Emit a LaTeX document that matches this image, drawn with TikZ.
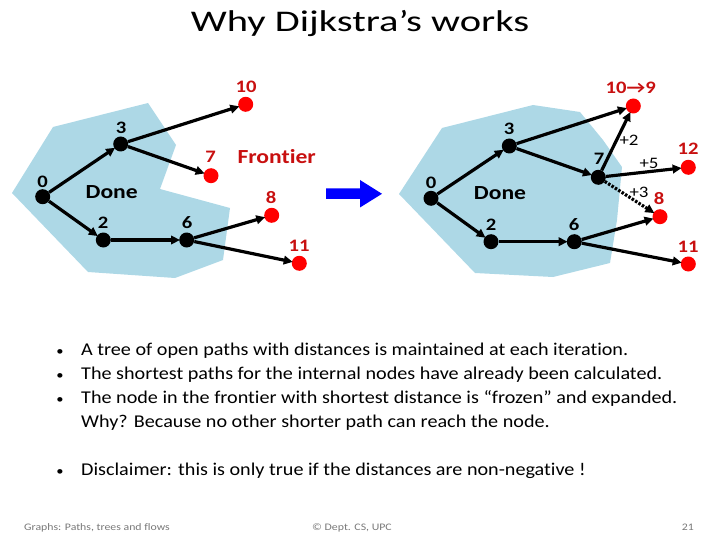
\documentclass[tikz,border=0pt]{standalone}
\usepackage{fontspec}
\setmainfont{Carlito}[FakeStretch=1.12,Ligatures=NoCommon]
\newfontfamily\titlef{Carlito}[FakeStretch=1.35,Ligatures=NoCommon]
\newfontfamily\widef{Carlito}[FakeStretch=1.18,Ligatures=NoCommon]
\usetikzlibrary{arrows.meta}
\definecolor{donefill}{RGB}{173,216,230}
\definecolor{lblred}{RGB}{200,16,16}
\definecolor{dotred}{RGB}{255,0,0}
\definecolor{arrblue}{RGB}{0,0,255}
\definecolor{footgray}{RGB}{120,120,120}
\tikzset{
  bdot/.style={circle,fill=black,inner sep=0,minimum size=15},
  rdot/.style={circle,fill=dotred,inner sep=0,minimum size=15},
  num/.style={inner sep=0,font=\widef\fontsize{17.5}{17.5}\selectfont\bfseries},
  rnum/.style={num,text=lblred},
  big/.style={inner sep=0,font=\widef\fontsize{20}{20}\selectfont\bfseries},
  wlab/.style={inner sep=0,font=\widef\fontsize{16}{16}\selectfont},
  edge/.style={line width=3.2pt,-{Triangle[length=9pt,width=8.5pt]},shorten >=-1pt},
  bul/.style={anchor=base west,inner sep=0,font=\fontsize{18}{18}\selectfont},
  dotb/.style={anchor=base,inner sep=0,font=\fontsize{13}{13}\selectfont},
  foot/.style={anchor=base,inner sep=0,text=footgray,font=\widef\fontsize{10}{10}\selectfont},
}
\begin{document}
\begin{tikzpicture}[x=1pt,y=-1pt]
\useasboundingbox (0,0) rectangle (720,540);
% title
\node[anchor=base,inner sep=0,font=\titlef\fontsize{30}{30}\selectfont] (title) at (360,31.5) {Why Dijkstra’s works};
% left done region
\fill[donefill] (53,127) -- (148,103) -- (176,145) -- (160,189) -- (230,208) -- (223,260) -- (175,278) -- (88,272) -- (12,193) -- cycle;
% right done region
\fill[donefill] (442,128) -- (533,105) -- (580,112) -- (603,140) -- (622,167) -- (617,220) -- (610,263) -- (553,277) -- (475,273) -- (399,194) -- cycle;
% left graph
\node[bdot] (a0) at (42.7,196.7) {};
\node[bdot] (a3) at (120.7,144) {};
\node[bdot] (a2) at (103.3,240) {};
\node[bdot] (a6) at (186.7,240) {};
\node[rdot] (a10) at (245.7,104.3) {};
\node[rdot] (a7) at (211,175.7) {};
\node[rdot] (a8) at (271.7,215.3) {};
\node[rdot] (a11) at (299.3,263.3) {};
\node[num] (la0) at (42.7,182) {0};
\node[num] (la3) at (121,128) {3};
\node[num] (la2) at (103,223) {2};
\node[num] (la6) at (187,223) {6};
\node[rnum] (la10) at (246,87) {10};
\node[rnum] (la7) at (210.7,157) {7};
\node[rnum] (la8) at (271,198) {8};
\node[rnum] (la11) at (299,246) {11};
\node[big,text=lblred] (frontier) at (276.7,156.7) {Frontier};
\node[big] (done1) at (111.7,192.5) {Done};
\draw[edge] (a0) -- (a3);
\draw[edge] (a0) -- (a2);
\draw[edge] (a2) -- (a6);
\draw[edge] (a3) -- (a10);
\draw[edge] (a3) -- (a7);
\draw[edge] (a6) -- (a8);
\draw[edge] (a6) -- (a11);
% blue arrow
\fill[arrblue] (326,188.5) -- (360,188.5) -- (360,180) -- (382,193.8) -- (360,207.5) -- (360,199) -- (326,199) -- cycle;
% right graph
\node[bdot] (b0) at (431,198.3) {};
\node[bdot] (b3) at (509.3,146) {};
\node[bdot] (b2) at (491,241.7) {};
\node[bdot] (b6) at (574.3,241.7) {};
\node[bdot] (b7) at (598.3,177.3) {};
\node[rdot] (b10) at (633.3,106) {};
\node[rdot] (b12) at (688.3,167.3) {};
\node[rdot] (b8) at (660,216.7) {};
\node[rdot] (b11) at (688.3,264) {};
\node[num] (lb0) at (431,183) {0};
\node[num] (lb3) at (509,128.5) {3};
\node[num] (lb2) at (491,224.5) {2};
\node[num] (lb6) at (574,224.5) {6};
\node[num] (lb7) at (599,159) {7};
\node[rnum] (lb10) at (630.7,88.3) {10\textrightarrow 9};
\node[rnum] (lb12) at (688,149) {12};
\node[rnum] (lb8) at (659,199) {8};
\node[rnum] (lb11) at (688,247) {11};
\node[wlab] (p2) at (629,140) {+2};
\node[wlab] (p5) at (649,163) {+5};
\node[wlab] (p3) at (639,192) {+3};
\node[big] (done2) at (500,193) {Done};
\draw[edge] (b0) -- (b3);
\draw[edge] (b0) -- (b2);
\draw[edge] (b2) -- (b6);
\draw[edge] (b3) -- (b10);
\draw[edge] (b3) -- (b7);
\draw[edge] (b6) -- (b8);
\draw[edge] (b6) -- (b11);
\draw[edge] (b7) -- (b10);
\draw[edge] (b7) -- (b12);
\draw[edge,dash pattern=on 2.5pt off 1.5pt] (b7) -- (b8);
% bullets
\node[bul] (t1) at (81,355.5) {A tree of open paths with distances is maintained at each iteration.};
\node[bul] (t2) at (81,379.5) {The shortest paths for the internal nodes have already been calculated.};
\node[bul] (t3) at (81,403.5) {The node in the frontier with shortest distance is “frozen” and expanded.};
\node[bul] (t4) at (81,427) {Why? Because no other shorter path can reach the node.};
\node[bul] (t5) at (81,475.5) {Disclaimer: this is only true if the distances are non-negative !};
\foreach \yy/\nm in {355.5/b1,379.5/b2,403.5/b3,475.5/b5}
  \node[dotb] (bl\nm) at (60,\yy) {•};
% footer
\node[foot,anchor=base west] (f1) at (24,530) {Graphs: Paths, trees and flows};
\node[foot] (f2) at (352,530) {© Dept. CS, UPC};
\node[foot,anchor=base east] (f3) at (694,530) {21};
\end{tikzpicture}
\end{document}
